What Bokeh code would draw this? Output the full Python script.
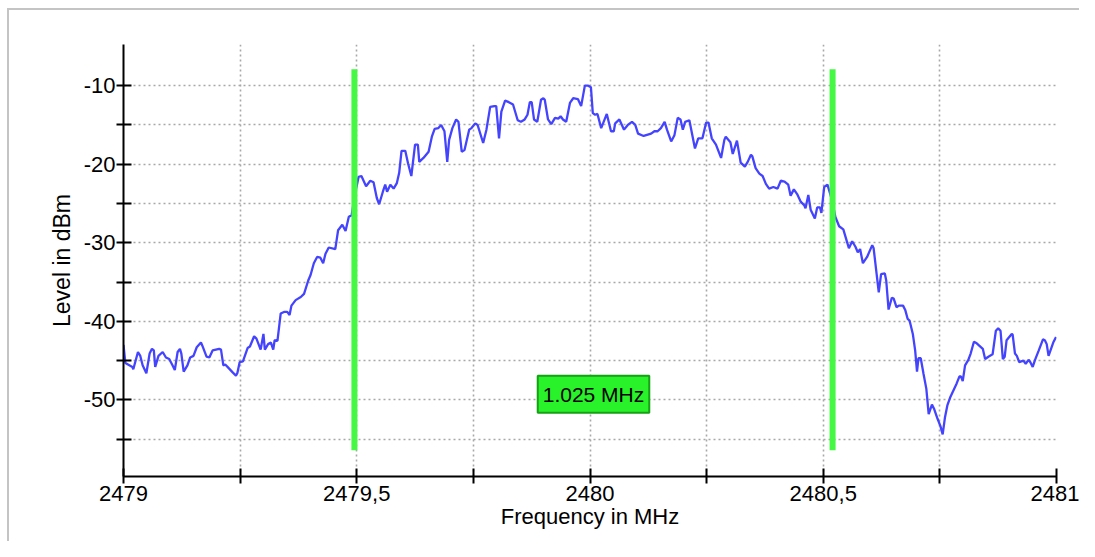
from bokeh.plotting import figure
from bokeh.models import FixedTicker, Label, Range1d
from bokeh.embed import file_html
from bokeh.resources import INLINE

# ---------------- data ----------------
freq_mhz = [
    2479.000, 2479.004, 2479.019, 2479.021, 2479.031, 2479.036, 2479.041, 2479.049, 2479.056, 2479.061,
    2479.065, 2479.068, 2479.075, 2479.084, 2479.091, 2479.098, 2479.105, 2479.110, 2479.116, 2479.121,
    2479.124, 2479.129, 2479.137, 2479.143, 2479.150, 2479.157, 2479.166, 2479.169, 2479.178, 2479.184,
    2479.191, 2479.205, 2479.209, 2479.214, 2479.218, 2479.223, 2479.234, 2479.241, 2479.244, 2479.249,
    2479.256, 2479.266, 2479.271, 2479.280, 2479.285, 2479.294, 2479.300, 2479.303, 2479.310, 2479.316,
    2479.321, 2479.324, 2479.330, 2479.337, 2479.344, 2479.351, 2479.356, 2479.360, 2479.369, 2479.380,
    2479.387, 2479.396, 2479.401, 2479.408, 2479.415, 2479.422, 2479.428, 2479.433, 2479.440, 2479.454,
    2479.460, 2479.469, 2479.476, 2479.483, 2479.489, 2479.496, 2479.504, 2479.510, 2479.520, 2479.529,
    2479.536, 2479.543, 2479.548, 2479.556, 2479.561, 2479.565, 2479.572, 2479.579, 2479.586, 2479.591,
    2479.596, 2479.604, 2479.610, 2479.617, 2479.625, 2479.631, 2479.634, 2479.643, 2479.654, 2479.661,
    2479.667, 2479.675, 2479.681, 2479.688, 2479.694, 2479.698, 2479.705, 2479.713, 2479.718, 2479.725,
    2479.731, 2479.741, 2479.746, 2479.754, 2479.759, 2479.771, 2479.778, 2479.786, 2479.795, 2479.799,
    2479.805, 2479.810, 2479.818, 2479.826, 2479.835, 2479.845, 2479.852, 2479.860, 2479.866, 2479.871,
    2479.875, 2479.880, 2479.887, 2479.895, 2479.900, 2479.903, 2479.910, 2479.917, 2479.925, 2479.932,
    2479.937, 2479.942, 2479.949, 2479.957, 2479.964, 2479.974, 2479.981, 2479.989, 2479.996, 2480.002,
    2480.006, 2480.011, 2480.016, 2480.024, 2480.036, 2480.045, 2480.051, 2480.054, 2480.063, 2480.073,
    2480.081, 2480.090, 2480.097, 2480.103, 2480.115, 2480.131, 2480.138, 2480.145, 2480.152, 2480.160,
    2480.165, 2480.174, 2480.181, 2480.188, 2480.194, 2480.199, 2480.204, 2480.213, 2480.225, 2480.232,
    2480.241, 2480.249, 2480.254, 2480.261, 2480.270, 2480.281, 2480.288, 2480.291, 2480.301, 2480.306,
    2480.315, 2480.323, 2480.332, 2480.338, 2480.345, 2480.348, 2480.355, 2480.363, 2480.370, 2480.377,
    2480.384, 2480.393, 2480.402, 2480.409, 2480.417, 2480.425, 2480.430, 2480.437, 2480.444, 2480.452,
    2480.459, 2480.462, 2480.468, 2480.473, 2480.482, 2480.487, 2480.493, 2480.496, 2480.502, 2480.509,
    2480.519, 2480.526, 2480.534, 2480.543, 2480.550, 2480.555, 2480.562, 2480.569, 2480.574, 2480.579,
    2480.585, 2480.594, 2480.605, 2480.608, 2480.619, 2480.624, 2480.632, 2480.635, 2480.640, 2480.647,
    2480.651, 2480.657, 2480.662, 2480.671, 2480.676, 2480.681, 2480.685, 2480.692, 2480.697, 2480.701,
    2480.704, 2480.709, 2480.715, 2480.721, 2480.726, 2480.733, 2480.738, 2480.745, 2480.751, 2480.756,
    2480.761, 2480.766, 2480.772, 2480.779, 2480.786, 2480.792, 2480.795, 2480.799, 2480.804, 2480.811,
    2480.816, 2480.823, 2480.829, 2480.842, 2480.847, 2480.854, 2480.863, 2480.870, 2480.875, 2480.880,
    2480.885, 2480.889, 2480.893, 2480.904, 2480.906, 2480.911, 2480.915, 2480.920, 2480.929, 2480.934,
    2480.940, 2480.944, 2480.949, 2480.954, 2480.962, 2480.971, 2480.975, 2480.979, 2480.983, 2480.993,
    2480.999,
]
level_dbm = [
    -43.0, -45.3, -45.8, -46.1, -43.9, -44.4, -45.6, -46.6, -44.1, -43.5,
    -43.7, -45.8, -44.4, -43.9, -44.6, -44.8, -45.6, -46.2, -43.9, -43.5,
    -44.1, -46.4, -45.6, -44.6, -44.4, -43.3, -42.7, -43.1, -44.5, -44.6,
    -43.7, -43.5, -43.6, -45.6, -45.5, -45.8, -46.5, -46.9, -46.6, -45.2,
    -45.1, -43.4, -43.2, -41.9, -42.2, -43.6, -41.6, -43.6, -42.9, -42.7,
    -43.6, -42.4, -42.5, -39.0, -38.8, -38.8, -39.2, -38.0, -37.3, -36.9,
    -36.5, -34.8, -34.1, -32.6, -31.8, -31.9, -32.6, -31.4, -30.6, -30.8,
    -28.4, -27.7, -28.5, -26.7, -26.5, -23.9, -21.6, -21.5, -22.8, -22.1,
    -22.3, -24.3, -25.1, -23.5, -22.6, -23.5, -22.6, -23.1, -22.4, -21.1,
    -18.3, -18.3, -19.9, -21.5, -17.5, -17.5, -19.7, -19.2, -18.4, -16.5,
    -15.5, -15.4, -15.0, -15.8, -19.7, -16.9, -15.4, -14.3, -14.6, -18.4,
    -18.2, -15.6, -15.4, -14.8, -15.0, -17.3, -15.6, -12.7, -12.6, -12.6,
    -16.7, -13.3, -11.9, -12.1, -12.4, -14.4, -14.6, -14.3, -13.7, -12.1,
    -12.1, -14.3, -14.6, -11.8, -11.6, -11.8, -14.3, -14.9, -14.1, -14.2,
    -13.9, -14.3, -14.6, -12.2, -11.6, -11.7, -12.6, -10.0, -10.0, -10.2,
    -13.5, -13.7, -13.6, -15.4, -13.6, -15.8, -15.8, -14.8, -14.3, -15.6,
    -15.0, -14.6, -15.0, -16.1, -16.4, -16.1, -15.8, -15.8, -15.4, -14.6,
    -15.6, -17.1, -16.3, -14.1, -14.3, -15.6, -14.6, -14.4, -18.0, -16.7,
    -16.7, -14.7, -14.7, -16.7, -17.5, -19.2, -16.9, -16.5, -17.2, -18.7,
    -17.0, -19.8, -20.3, -19.7, -18.8, -19.0, -20.5, -21.2, -21.5, -22.5,
    -23.1, -22.9, -23.1, -22.1, -22.2, -22.6, -24.0, -23.2, -23.8, -24.8,
    -25.2, -25.6, -23.9, -25.8, -26.9, -25.5, -25.5, -26.2, -22.9, -22.6,
    -24.6, -26.7, -27.9, -28.3, -29.7, -30.7, -29.8, -30.5, -31.2, -30.8,
    -32.6, -31.8, -30.3, -30.7, -36.3, -34.0, -33.9, -34.8, -38.5, -37.0,
    -37.1, -38.2, -38.0, -38.0, -38.6, -39.7, -39.9, -41.6, -43.7, -46.4,
    -44.7, -44.7, -46.7, -48.6, -51.8, -50.6, -51.2, -52.4, -53.3, -54.4,
    -52.2, -50.7, -49.7, -48.8, -47.9, -47.0, -47.0, -47.6, -45.6, -44.9,
    -44.1, -42.6, -42.8, -43.5, -44.8, -44.5, -44.2, -41.2, -40.9, -41.2,
    -44.8, -44.5, -42.4, -41.6, -41.7, -44.1, -44.4, -45.2, -45.0, -45.4,
    -44.9, -45.2, -45.8, -44.9, -43.7, -42.3, -42.4, -42.9, -44.4, -42.7,
    -42.0,
]

marker_freqs = [2479.495, 2480.520]      # the two green marker lines
marker_span = [-7.9, -56.4]              # vertical extent of the marker lines (dBm)

x_tick_values = [2479.0, 2479.5, 2480.0, 2480.5, 2481.0]
x_tick_labels = ["2479", "2479,5", "2480", "2480,5", "2481"]
x_minor_values = [2479.25, 2479.75, 2480.25, 2480.75]
y_tick_values = [-50, -40, -30, -20, -10]
y_tick_labels = ["-50", "-40", "-30", "-20", "-10"]
y_minor_values = [-55, -45, -35, -25, -15]

x_label = "Frequency in MHz"
y_label = "Level in dBm"

# ---------------- figure ----------------
FONT = "Liberation Sans"

p = figure(
    width=1079, height=541,
    x_range=Range1d(2479.0, 2481.0),
    y_range=Range1d(-59.75, -4.76),
    output_backend="svg", toolbar_location=None,
    min_border_left=123, min_border_right=23,
    min_border_top=44, min_border_bottom=65,
    background_fill_color="white", border_fill_color=None,
)
p.outline_line_color = None
# light grey panel edge (top and left), drawn behind the transparent border area
p.styles = {
    "background-color": "white",
    "box-shadow": "inset 7px 8px 0 0 #ffffff, inset 9px 10px 0 0 #c4c4c4",
}

xt = FixedTicker(ticks=x_tick_values, minor_ticks=x_minor_values)
yt = FixedTicker(ticks=y_tick_values, minor_ticks=y_minor_values)
p.xaxis.ticker = xt
p.yaxis.ticker = yt
p.xgrid.ticker = xt
p.ygrid.ticker = yt
p.xaxis.major_label_overrides = {v: s for v, s in zip(x_tick_values, x_tick_labels)}
p.yaxis.major_label_overrides = {v: s for v, s in zip(y_tick_values, y_tick_labels)}

for ax in (p.xaxis[0], p.yaxis[0]):
    ax.axis_line_color = "black"
    ax.axis_line_width = 2
    ax.major_tick_line_color = "black"
    ax.major_tick_line_width = 2
    ax.minor_tick_line_color = "black"
    ax.minor_tick_line_width = 2
    ax.major_tick_in = 8
    ax.major_tick_out = 7
    ax.minor_tick_in = 8
    ax.minor_tick_out = 7
    ax.major_label_text_font = FONT
    ax.major_label_text_font_size = "22px"
    ax.major_label_text_color = "black"
    ax.axis_label_text_font = FONT
    ax.axis_label_text_font_size = "22px"
    ax.axis_label_text_font_style = "normal"
    ax.axis_label_text_color = "black"

p.yaxis.axis_label_text_font_size = "23px"
p.xaxis.axis_label = x_label
p.yaxis.axis_label = y_label
p.xaxis.major_label_standoff = 2
p.xaxis.axis_label_standoff = 0
p.yaxis.major_label_standoff = 1
p.yaxis.axis_label_standoff = 6

for g in (p.xgrid[0], p.ygrid[0]):
    g.grid_line_color = "#a8a8a8"
    g.grid_line_dash = "2 3"
    g.grid_line_width = 1.6
    g.minor_grid_line_color = "#a8a8a8"
    g.minor_grid_line_dash = "2 3"
    g.minor_grid_line_width = 1.6

# spectrum trace
p.line(freq_mhz, level_dbm, line_color="#4444ff", line_width=2.3)

# marker lines
p.segment(x0=marker_freqs, y0=[marker_span[0]] * len(marker_freqs),
          x1=marker_freqs, y1=[marker_span[1]] * len(marker_freqs),
          line_color="#44f844", line_width=6)

# bandwidth label
bw = marker_freqs[1] - marker_freqs[0]
p.add_layout(Label(
    x=(marker_freqs[0] + marker_freqs[1]) / 2, y=-49.27,
    text=f"{bw:.3f} MHz",
    text_align="center", text_baseline="middle",
    text_font=FONT, text_font_size="21px", text_color="black",
    background_fill_color="#2af22a",
    border_line_color="#15a015", border_line_width=2,
    padding=[5, 7],
))

open("out.html", "w").write(file_html(p, INLINE))
